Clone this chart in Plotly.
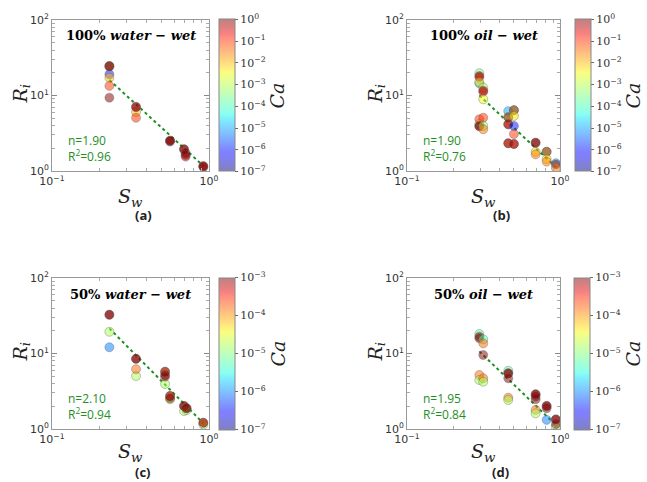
import numpy as np
import plotly.graph_objects as go

W, H = 647, 482

# ---------------- data ----------------
# (a) 100% water-wet   (log10 Ca)
a_sw = [0.232, 0.232, 0.232, 0.232, 0.232, 0.232, 0.232,
        0.343, 0.343, 0.343, 0.343,
        0.565, 0.565, 0.565,
        0.693, 0.693, 0.71, 0.71, 0.71,
        0.92, 0.92, 0.92]
a_ri = [19.1, 24.6, 24.2, 24.6, 17.2, 13.4, 9.35,
        6.05, 5.08, 7.1, 7.0,
        2.45, 2.52, 2.52,
        1.94, 1.94, 1.55, 1.73, 1.63,
        1.12, 1.16, 1.16]
a_ca = [-6.0, -3.5, -0.2, 0.0, -2.0, -1.0, 0.0,
        -2.0, -1.0, 0.0, -0.2,
        0.0, 0.0, 0.0,
        0.0, 0.0, -0.5, 0.0, 0.0,
        -0.3, 0.0, 0.0]

# (b) 100% oil-wet
b_sw = [0.297, 0.297, 0.297, 0.297, 0.297,
        0.315, 0.315, 0.315, 0.315,
        0.297, 0.297, 0.297, 0.297,
        0.315, 0.315, 0.315,
        0.459, 0.459, 0.459, 0.459, 0.459, 0.459, 0.459,
        0.5, 0.5, 0.5, 0.5, 0.5, 0.5, 0.5,
        0.693, 0.693, 0.693, 0.693,
        0.818, 0.818, 0.818, 0.818,
        0.94, 0.94, 0.94]
b_ri = [14.5, 19.7, 18.1, 17.6, 15.0,
        12.7, 11.6, 11.2, 8.9,
        4.2, 4.84, 3.95, 3.9,
        5.08, 3.95, 3.57,
        6.2, 5.15, 5.15, 4.15, 4.15, 2.33, 2.33,
        6.4, 6.4, 5.35, 3.95, 3.09, 2.28, 2.28,
        1.79, 1.66, 2.37, 2.37,
        1.8, 1.8, 1.44, 1.33,
        1.27, 1.22, 1.1]
b_ca = [-5.0, -3.5, 0.0, -0.5, -2.3,
        -3.0, 0.0, -0.5, -2.5,
        -3.0, -1.0, 0.0, 0.0,
        -1.0, -3.3, -1.5,
        -5.0, -3.0, 0.0, -1.0, 0.0, -1.0, 0.0,
        -3.0, 0.0, -2.3, -6.0, -1.0, -1.0, 0.0,
        -2.3, -1.5, 0.0, 0.0,
        -3.0, 0.0, -2.3, -1.5,
        -5.0, 0.0, -1.5]

# (c) 50% water-wet
c_sw = [0.232, 0.232, 0.232, 0.232,
        0.343, 0.343, 0.343, 0.343,
        0.525, 0.525, 0.525, 0.525, 0.525,
        0.565, 0.565, 0.565, 0.565,
        0.693, 0.693, 0.693, 0.72, 0.72, 0.72,
        0.92, 0.92, 0.92]
c_ri = [12.1, 19.4, 32.6, 32.6,
        5.03, 6.2, 8.5, 8.5,
        3.95, 5.74, 5.74, 5.19, 4.93,
        2.47, 2.74, 2.74, 2.55,
        1.73, 2.02, 2.02, 1.78, 1.88, 1.88,
        1.14, 1.21, 1.21]
c_ca = [-6.0, -4.8, -3.0, -3.0,
        -4.8, -3.8, -3.0, -3.0,
        -4.8, -3.8, -3.0, -3.0, -3.0,
        -4.8, -3.8, -3.0, -3.0,
        -4.8, -3.0, -3.0, -4.8, -3.0, -3.0,
        -4.8, -3.8, -3.0]

# (d) 50% oil-wet
d_sw = [0.297, 0.297, 0.297,
        0.315, 0.315, 0.315,
        0.297, 0.297, 0.315, 0.315,
        0.459, 0.459, 0.459, 0.459, 0.459, 0.459,
        0.693, 0.693, 0.693, 0.693, 0.693, 0.693,
        0.818, 0.818, 0.818, 0.818,
        0.94, 0.94, 0.94, 0.94]
d_ri = [18.1, 16.7, 15.9,
        15.4, 13.6, 9.55,
        5.19, 4.46, 4.7, 4.23,
        5.92, 5.46, 5.46, 4.69, 2.6, 2.42,
        1.79, 1.61, 2.47, 2.68, 2.88, 2.88,
        1.32, 1.88, 2.02, 2.02,
        1.07, 1.16, 1.34, 1.34]
d_ca = [-5.2, -3.0, -3.0,
        -5.2, -3.8, -3.0,
        -3.8, -4.8, -3.8, -4.8,
        -5.2, -3.0, -3.0, -3.0, -3.8, -4.8,
        -3.8, -4.8, -3.0, -3.0, -3.0, -3.0,
        -6.0, -3.0, -3.0, -3.0,
        -4.8, -3.0, -3.0, -3.0]

fit_n = [1.90, 1.90, 2.10, 1.95]
fit_r2 = ["0.96", "0.76", "0.94", "0.84"]
titles = ["100% <i>water − wet</i>", "100% <i>oil − wet</i>",
          "50% <i>water − wet</i>", "50% <i>oil − wet</i>"]
panel_labels = ["(a)", "(b)", "(c)", "(d)"]
ca_ranges = [(-7, 0), (-7, 0), (-7, -3), (-7, -3)]

# ---------------- style ----------------
def jet_scale(alpha=0.5, n=41):
    vs = np.linspace(0, 1, n)
    r = np.interp(vs, [0, 0.35, 0.66, 0.89, 1], [0, 0, 1, 1, 0.5])
    g = np.interp(vs, [0, 0.125, 0.375, 0.64, 0.91, 1], [0, 0, 1, 1, 0, 0])
    b = np.interp(vs, [0, 0.11, 0.34, 0.65, 1], [0.5, 1, 1, 0, 0])
    return [[float(v), f"rgba({int(round(rr*255))},{int(round(gg*255))},{int(round(bb*255))},{alpha})"]
            for v, rr, gg, bb in zip(vs, r, g, b)]

CS = jet_scale(0.5)

def px(x):
    return x / W

def py(y):
    return 1 - y / H

# panel boxes in pixels: (x0, x1, y0(top), y1(bottom))
boxes = [(52, 209, 20, 171), (407, 560, 20, 171),
         (52, 209, 278, 429), (407, 560, 278, 429)]
cbar_x = [219, 575, 219, 574]
label_pos = [(143, 215), (501, 215), (143, 472), (500, 472)]
sw_title_y = [197, 197, 452, 452]

sup = lambda e: f"10<sup>{e}</sup>".replace("-", "−")

fig = go.Figure()
datasets = [(a_sw, a_ri, a_ca), (b_sw, b_ri, b_ca), (c_sw, c_ri, c_ca), (d_sw, d_ri, d_ca)]

serif = "DejaVu Serif"
sans = "DejaVu Sans"
annos = []
layout_axes = {}


def note(x, y, text, font, **kw):
    d = dict(x=px(x), y=py(y), xref="paper", yref="paper", text=text,
             showarrow=False, xanchor="center", yanchor="middle", font=font)
    d.update(kw)
    annos.append(d)


for i, ((sw, ri, ca), box) in enumerate(zip(datasets, boxes)):
    k = "" if i == 0 else str(i + 1)
    x0, x1, yt, yb = box
    cmin, cmax = ca_ranges[i]
    # fit line  R = Sw^-n
    sline = np.linspace(min(sw), max(sw), 30)
    rline = sline ** (-fit_n[i])
    fig.add_trace(go.Scatter(x=sline, y=rline, mode="lines",
                             line=dict(color="#1f8f1f", width=2, dash="dot"),
                             xaxis="x" + k, yaxis="y" + k, showlegend=False,
                             hoverinfo="skip"))
    cvals = list(range(cmin, cmax + 1))
    fig.add_trace(go.Scatter(
        x=sw, y=ri, mode="markers", xaxis="x" + k, yaxis="y" + k, showlegend=False,
        marker=dict(size=9, color=ca, colorscale=CS, cmin=cmin, cmax=cmax,
                    line=dict(color="rgba(90,90,90,0.45)", width=0.8),
                    showscale=True,
                    colorbar=dict(x=px(cbar_x[i]), xanchor="left", xpad=0, ypad=0,
                                  y=py((yt + yb) / 2), yanchor="middle",
                                  len=(yb - yt + 1) / H, lenmode="fraction",
                                  thickness=16, thicknessmode="pixels",
                                  outlinecolor="#888", outlinewidth=1,
                                  tickvals=cvals, ticktext=[sup(v) for v in cvals],
                                  ticks="outside", ticklen=3, tickcolor="#666",
                                  tickfont=dict(family=serif, size=11, color="#333")))))
    common = dict(type="log", showgrid=False, zeroline=False, showline=True,
                  linecolor="#999", linewidth=1, mirror="allticks",
                  ticks="inside", ticklen=5, tickcolor="#888", automargin=False,
                  tickfont=dict(family=sans, size=11, color="#333"))
    layout_axes["xaxis" + k] = dict(common, domain=[px(x0), px(x1)], range=[-1, 0],
                                    anchor="y" + k,
                                    tickvals=[0.1, 1], ticktext=[sup(-1), sup(0)],
                                    minor=dict(ticks="inside", ticklen=3, tickcolor="#aaa",
                                               tickvals=[0.2, 0.3, 0.4, 0.5, 0.6, 0.7, 0.8, 0.9]))
    layout_axes["yaxis" + k] = dict(common, domain=[py(yb), py(yt)], range=[0, 2],
                                    anchor="x" + k,
                                    tickvals=[1, 10, 100], ticktext=[sup(0), sup(1), sup(2)],
                                    minor=dict(ticks="inside", ticklen=3, tickcolor="#aaa",
                                               tickvals=[2, 3, 4, 5, 6, 7, 8, 9,
                                                         20, 30, 40, 50, 60, 70, 80, 90]))
    cx = (x0 + x1) / 2
    note(cx, yt + 16, "<b>" + titles[i] + "</b>", dict(family=serif, size=13, color="black"))
    note(x0 + 14, yb - 23, f"n={fit_n[i]:.2f}<br>R<sup>2</sup>=" + fit_r2[i],
         dict(family="Open Sans", size=12, color="#1f8f1f"), xanchor="left", align="left")
    note(cx, sw_title_y[i], "<i>S</i><sub><i>w</i></sub>", dict(family=serif, size=19, color="#222"))
    note(x0 - 31, (yt + yb) / 2 - 2, "<i>R</i><sub><i>i</i></sub>",
         dict(family=serif, size=19, color="#222"), textangle=-90)
    note(cbar_x[i] + 58, (yt + yb) / 2, "<i>Ca</i>",
         dict(family=serif, size=19, color="#222"), textangle=-90)
    lx, ly = label_pos[i]
    note(lx, ly, "<b>" + panel_labels[i] + "</b>",
         dict(family="Open Sans", size=13, color="#222"))

fig.update_layout(width=W, height=H,
                  margin=dict(l=0, r=0, t=0, b=0, pad=0, autoexpand=False),
                  paper_bgcolor="white", plot_bgcolor="white",
                  annotations=annos, **layout_axes)
fig.write_html("out.html", config={"displayModeBar": False},
               post_script="document.body.style.margin='0px';")
